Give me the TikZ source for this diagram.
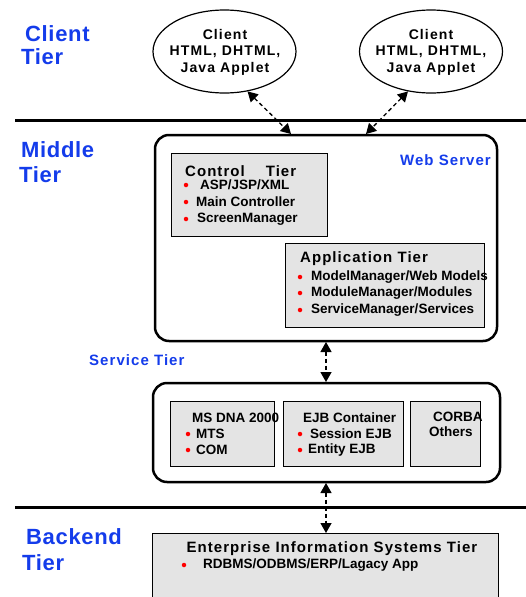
\documentclass[tikz,border=0pt]{standalone}
\usepackage{fontspec}
\setmainfont{Liberation Sans}
\usetikzlibrary{shapes.geometric,arrows.meta}
\definecolor{tierblue}{RGB}{20,60,235}
\definecolor{boxgray}{RGB}{228,228,228}
\begin{document}
\begin{tikzpicture}[x=1pt,y=-1pt,
  tierlabel/.style={font=\fontsize{22}{24}\selectfont\bfseries\addfontfeature{LetterSpace=3}, text=tierblue, inner sep=0pt, anchor=base west},
  bluesmall/.style={font=\fontsize{15}{17}\selectfont\bfseries\addfontfeature{LetterSpace=7}, text=tierblue, inner sep=0pt},
  client/.style={ellipse, draw, line width=1.2pt, minimum width=143pt, minimum height=83pt, inner sep=0pt},
  clienttext/.style={inner sep=0pt, align=center, font=\fontsize{14}{16.5}\selectfont\bfseries\addfontfeature{LetterSpace=8}},
  bigbox/.style={draw, line width=2.5pt, rounded corners=14pt},
  graybox/.style={draw, line width=1pt, fill=boxgray},
  item/.style={font=\fontsize{13.5}{16}\selectfont\bfseries, inner sep=0pt, anchor=west},
  ttl/.style={font=\fontsize{15}{18}\selectfont\bfseries\addfontfeature{LetterSpace=7}, inner sep=0pt, anchor=west},
  dot/.style={circle, fill=red, inner sep=0pt, minimum size=4.5pt},
  conn/.style={dashed, dash pattern=on 4pt off 3pt, line width=1.3pt, {Triangle[length=10pt,width=11pt]}-{Triangle[length=10pt,width=11pt]}},
  sep/.style={line width=3pt}
]
\useasboundingbox (0,0) rectangle (526,597);
\fill[white] (0,0) rectangle (526,597);

% tier labels
\node[tierlabel] (lclient) at (25,41) {Client};
\node[tierlabel] (lclientb) at (21,64) {Tier};
\node[tierlabel] (lmiddle) at (21,157) {Middle};
\node[tierlabel] (lmiddleb) at (19,182) {Tier};
\node[tierlabel] (lback) at (26,544) {Backend};
\node[tierlabel] (lbackb) at (22,570) {Tier};

% separators
\coordinate (s1a) at (15,120); \coordinate (s1b) at (526,120);
\coordinate (s2a) at (15,507); \coordinate (s2b) at (526,507);
\draw[sep] (s1a) -- (s1b);
\draw[sep] (s2a) -- (s2b);

% clients
\node[client] (c1) at (224.5,51.5) {};
\node[clienttext] (c1t) at (225,52) {Client\\HTML, DHTML,\\Java Applet};
\node[client] (c2) at (431,51.5) {};
\node[clienttext] (c2t) at (431,52) {Client\\HTML, DHTML,\\Java Applet};

% web server
\draw[bigbox] (155,135) rectangle (497,341);
\coordinate (wsA) at (291,134);
\coordinate (wsB) at (366,134);
\coordinate (wsBot) at (326,342);
\node[bluesmall, anchor=east] (ws) at (491,160) {Web Server};

% control tier
\draw[graybox] (171,153) rectangle (327,236);
\node[ttl] (ct) at (185,171) {Control\hspace{21pt}Tier};
\node[dot] (d1) at (186,185) {};
\node[item] (ct1) at (200,185) {ASP/JSP/XML};
\node[dot] (d2) at (186,202) {};
\node[item] (ct2) at (196,202) {Main Controller};
\node[dot] (d3) at (186,219) {};
\node[item] (ct3) at (197,219) {ScreenManager};

% application tier
\draw[graybox] (285,243) rectangle (484,327);
\node[ttl] (at) at (300,259) {Application Tier};
\node[dot] (d4) at (300,277) {};
\node[item] (at1) at (311,277) {ModelManager/Web Models};
\node[dot] (d5) at (300,293) {};
\node[item] (at2) at (311,293) {ModuleManager/Modules};
\node[dot] (d6) at (300,310) {};
\node[item] (at3) at (311,310) {ServiceManager/Services};

% service tier
\node[bluesmall, anchor=west] (st) at (89,360) {Service Tier};
\draw[bigbox] (153,383) rectangle (500,482);
\coordinate (svTop) at (326,382);
\coordinate (svBot) at (326,483);

\draw[graybox] (170,401) rectangle (274,466);
\draw[graybox] (283,401) rectangle (403,466);
\draw[graybox] (410,401) rectangle (480,466);
\node[item] (ms) at (192,418) {MS DNA 2000};
\node[dot] (d7) at (188,434) {};
\node[item] (ms1) at (196,434) {MTS};
\node[dot] (d8) at (188,450) {};
\node[item] (ms2) at (196,450) {COM};
\node[item] (ejb) at (303,418) {EJB Container};
\node[dot] (d9) at (300,434) {};
\node[item] (ejb1) at (310,434) {Session EJB};
\node[dot] (d10) at (300,450) {};
\node[item] (ejb2) at (308,450) {Entity EJB};
\node[item] (co) at (433,417) {CORBA};
\node[item] (co2) at (429,432) {Others};

% EIS
\fill[boxgray] (152,533) rectangle (498,600);
\draw[line width=1pt] (152,600) -- (152,533) -- (498,533) -- (498,600);
\coordinate (eisTop) at (326,533);
\node[ttl, anchor=center] (eis) at (332,549) {Enterprise Information Systems Tier};
\node[dot] (d11) at (184,565) {};
\node[item] (eis1) at (203,565) {RDBMS/ODBMS/ERP/Lagacy App};

% connectors
\draw[conn] (c1.-60) -- (wsA);
\draw[conn] (c2.-120) -- (wsB);
\draw[conn] (wsBot) -- (svTop);
\draw[conn] (svBot) -- (eisTop);
\end{tikzpicture}
\end{document}
